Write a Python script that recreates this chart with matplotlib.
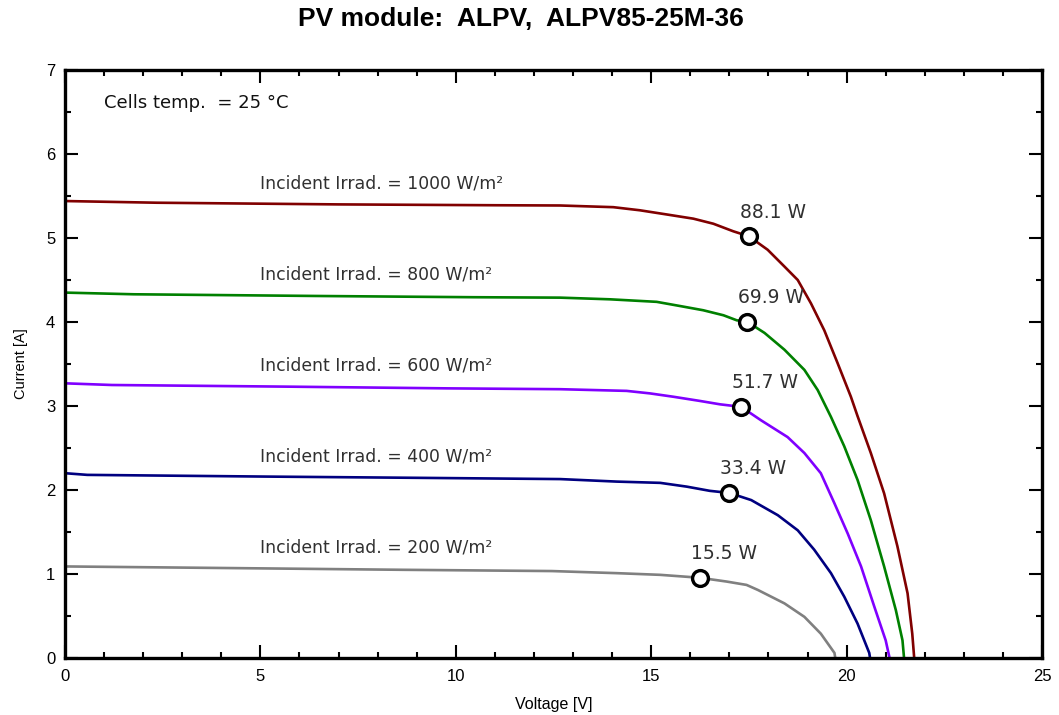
import matplotlib
matplotlib.use("Agg")
import matplotlib.pyplot as plt
from matplotlib.ticker import MultipleLocator

plt.rcParams['font.family'] = ['Liberation Sans', 'DejaVu Sans']

title = "PV module:  ALPV,  ALPV85-25M-36"
temp_text = "Cells temp.  = 25 °C"

irradiances = [1000, 800, 600, 400, 200]
colors = ["#800000", "#008000", "#8000ff", "#000080", "#808080"]

v_1000 = [0.0, 2.35, 7.0, 11.0, 12.67, 14.03, 14.71, 15.40, 16.08, 16.59, 17.10, 17.5, 17.98, 18.41,
          18.75, 19.09, 19.43, 19.77, 20.11, 20.28, 20.62, 20.96, 21.30, 21.56, 21.68, 21.73]
i_1000 = [5.44, 5.42, 5.40, 5.39, 5.387, 5.367, 5.33, 5.28, 5.23, 5.17, 5.08, 5.02, 4.86, 4.66,
          4.50, 4.22, 3.90, 3.51, 3.11, 2.88, 2.44, 1.96, 1.33, 0.77, 0.29, 0.0]

v_800 = [0.0, 1.76, 6.4, 10.46, 12.67, 13.95, 15.14, 15.74, 16.33, 16.85, 17.19, 17.45, 17.9, 18.41,
         18.92, 19.26, 19.6, 19.94, 20.28, 20.62, 20.96, 21.26, 21.43, 21.47]
i_800 = [4.35, 4.33, 4.31, 4.295, 4.29, 4.27, 4.24, 4.19, 4.14, 4.08, 4.02, 4.005, 3.87, 3.67,
         3.43, 3.19, 2.87, 2.52, 2.12, 1.64, 1.09, 0.57, 0.21, 0.0]

v_600 = [0.0, 1.2, 5.77, 9.78, 12.67, 14.37, 14.97, 15.57, 16.25, 16.76, 17.3, 17.81, 18.49, 18.92,
         19.34, 19.69, 20.03, 20.37, 20.71, 21.0, 21.1]
i_600 = [3.27, 3.25, 3.23, 3.21, 3.20, 3.18, 3.15, 3.11, 3.06, 3.02, 2.99, 2.83, 2.63, 2.44,
         2.20, 1.84, 1.48, 1.09, 0.61, 0.21, 0.0]

v_400 = [0.0, 0.57, 5.08, 9.0, 12.67, 14.12, 15.23, 15.91, 16.50, 17.0, 17.56, 18.24, 18.75, 19.17,
         19.6, 19.94, 20.28, 20.58, 20.6]
i_400 = [2.20, 2.18, 2.16, 2.145, 2.13, 2.10, 2.085, 2.04, 1.99, 1.965, 1.88, 1.70, 1.52, 1.29,
         1.01, 0.73, 0.41, 0.06, 0.0]

v_200 = [0.0, 4.36, 8.64, 12.46, 14.12, 15.23, 15.82, 16.25, 16.93, 17.44, 17.73, 18.41, 18.92,
         19.34, 19.69, 19.71]
i_200 = [1.09, 1.07, 1.05, 1.035, 1.01, 0.99, 0.97, 0.955, 0.91, 0.87, 0.81, 0.65, 0.49,
         0.29, 0.06, 0.0]

curves_v = [v_1000, v_800, v_600, v_400, v_200]
curves_i = [i_1000, i_800, i_600, i_400, i_200]

mpp_v = [17.5, 17.45, 17.3, 17.0, 16.25]
mpp_i = [5.02, 4.005, 2.99, 1.965, 0.955]
mpp_labels = ["88.1 W", "69.9 W", "51.7 W", "33.4 W", "15.5 W"]

label_v = 5.0
label_i = [5.65, 4.56, 3.48, 2.40, 1.31]

fig = plt.figure(figsize=(10.59, 7.15), dpi=100)
ax = fig.add_axes([65/1059, 1-658/715, (1042-65)/1059, (658-70)/715])

for v, i, c in zip(curves_v, curves_i, colors):
    ax.plot(v, i, color=c, lw=1.9, solid_joinstyle='round', zorder=2)

txt_font = ['DejaVu Sans']
for irr, li in zip(irradiances, label_i):
    ax.text(label_v, li, f"Incident Irrad. = {irr} W/m²", fontsize=12.4, family=txt_font,
            color="#303030", ha="left", va="center")

ax.scatter(mpp_v, mpp_i, s=130, facecolors="white", edgecolors="black",
           linewidths=2.4, zorder=4)
for mv, mi, lab in zip(mpp_v, mpp_i, mpp_labels):
    ax.annotate(lab, (mv, mi), xytext=(-6.5, 17.5), textcoords="offset points",
                ha="left", va="center", fontsize=13.5, family=txt_font, color="#303030")

ax.text(1.0, 6.61, temp_text, fontsize=13, family=txt_font, color="#111111",
        ha="left", va="center")

ax.set_xlim(0, 25)
ax.set_ylim(0, 7)
ax.xaxis.set_major_locator(MultipleLocator(5))
ax.xaxis.set_minor_locator(MultipleLocator(1))
ax.yaxis.set_major_locator(MultipleLocator(1))
ax.yaxis.set_minor_locator(MultipleLocator(0.5))
ax.tick_params(which="both", direction="in", top=True, right=True, width=1.5,
               labelsize=12, colors="black")
ax.tick_params(which="major", length=9.5)
ax.tick_params(which="minor", length=4.5)
ax.tick_params(axis="x", pad=8)
ax.tick_params(axis="y", pad=7)
for s in ax.spines.values():
    s.set_linewidth(2.4)

ax.set_xlabel("Voltage [V]", fontsize=11.5, labelpad=9)
ax.set_ylabel("Current [A]", fontsize=10.5, labelpad=13)

fig.text(521/1059, 1-19/715, title, fontsize=19, fontweight="bold", ha="center", va="center")

fig.savefig("out.png", dpi=100)
